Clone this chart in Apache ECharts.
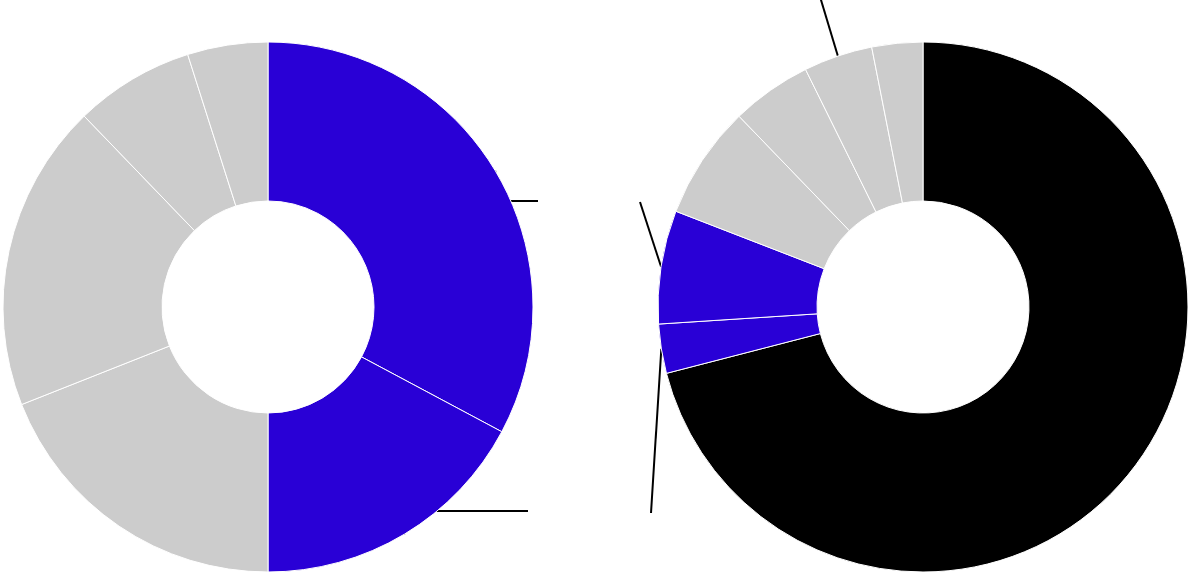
<!DOCTYPE html>
<html>
<head>
<meta charset="utf-8">
<script src="https://cdn.jsdelivr.net/npm/echarts@6/dist/echarts.min.js"></script>
<style>
html, body { margin: 0; padding: 0; background: #fff; }
#chart { width: 1189px; height: 573px; }
</style>
</head>
<body>
<div id="chart"></div>
<script>
// values (percent of each ring, clockwise from 12 o'clock)
var leftNames = ['L1', 'L2', 'L3', 'L4', 'L5', 'L6'];
var leftValues = [32.8, 17.2, 19.0, 18.8, 7.3, 4.9];
var rightNames = ['R1', 'R2', 'R3', 'R4', 'R5', 'R6', 'R7'];
var rightValues = [70.9, 3.0, 6.9, 6.9, 4.9, 4.2, 3.1];

var blue = '#2900d6';
var grey = '#cccccc';
var leftColors = [blue, blue, grey, grey, grey, grey];
var rightColors = ['#000000', blue, blue, grey, grey, grey, grey];

var centers = [[268, 307], [923, 307]];
// where the (empty) labels sit, offset from each ring's centre
var labelEnds = [
    { 0: [270, -106], 1: [260, 204] },
    { 1: [-272, 206], 2: [-283, -105], 5: [-105, -317] }
];

function makeData(names, values, colors, ends) {
    return values.map(function (v, i) {
        var shown = ends[i] !== undefined;
        return {
            name: names[i],
            value: v,
            itemStyle: { color: colors[i] },
            label: { show: shown },
            labelLine: { show: shown }
        };
    });
}

function layoutFor(s) {
    return function (params) {
        var end = labelEnds[s][params.dataIndex];
        var pts = params.labelLinePoints;
        if (!end || !pts) return {};
        var p2 = [centers[s][0] + end[0], centers[s][1] + end[1]];
        var p1 = s === 0 ? [pts[0][0], p2[1]] : p2;
        return { x: p2[0], y: p2[1], labelLinePoints: [pts[0], p1, p2] };
    };
}

function ring(s, names, values, colors) {
    return {
        type: 'pie',
        center: centers[s],
        radius: [106, 265],
        startAngle: 90,
        clockwise: true,
        avoidLabelOverlap: false,
        animation: false,
        emphasis: { disabled: true },
        label: { show: true, position: 'outside', formatter: ' ', color: 'transparent' },
        labelLine: { show: true, lineStyle: { color: '#000', width: 2 } },
        itemStyle: { borderColor: '#fff', borderWidth: 1 },
        labelLayout: layoutFor(s),
        data: makeData(names, values, colors, labelEnds[s])
    };
}

var chartDom = document.getElementById('chart');
var myChart = echarts.init(chartDom);

var option = {
    backgroundColor: '#fff',
    animation: false,
    series: [
        ring(0, leftNames, leftValues, leftColors),
        ring(1, rightNames, rightValues, rightColors)
    ]
};

option && myChart.setOption(option);
</script>
</body>
</html>
